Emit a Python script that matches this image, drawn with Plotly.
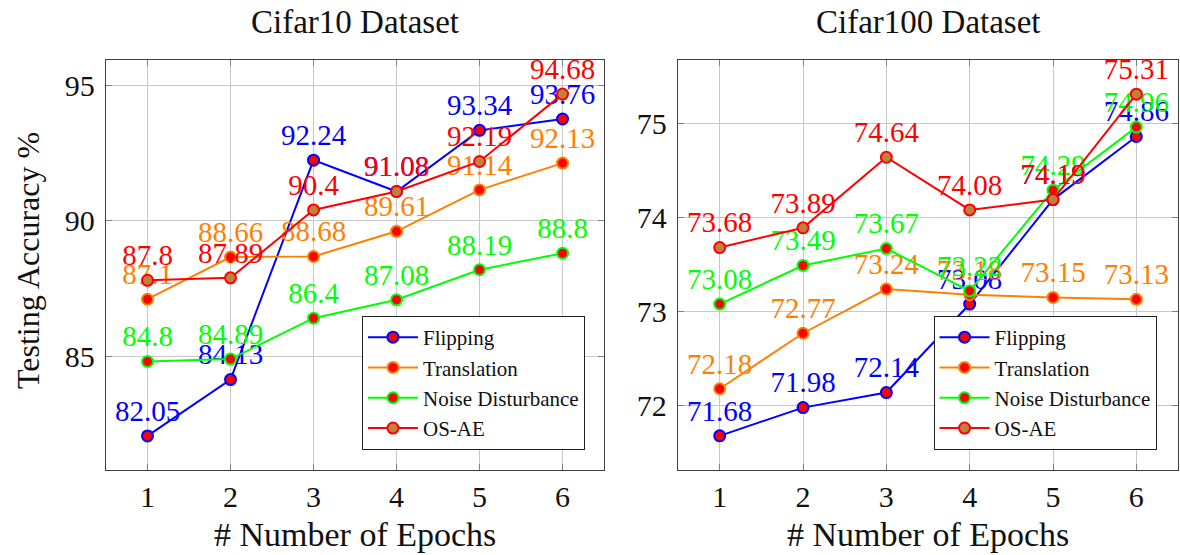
import plotly.graph_objects as go

# Epochs on the x axis
epochs = [1, 2, 3, 4, 5, 6]

# Cifar10 testing accuracy (%)
c10_flipping = [82.05, 84.13, 92.24, 91.08, 93.34, 93.76]
c10_translation = [87.1, 88.66, 88.68, 89.61, 91.14, 92.13]
c10_noise = [84.8, 84.89, 86.4, 87.08, 88.19, 88.8]
c10_osae = [87.8, 87.89, 90.4, 91.08, 92.19, 94.68]

# Cifar100 testing accuracy (%)
c100_flipping = [71.68, 71.98, 72.14, 73.08, 74.19, 74.86]
c100_translation = [72.18, 72.77, 73.24, 73.18, 73.15, 73.13]
c100_noise = [73.08, 73.49, 73.67, 73.22, 74.29, 74.96]
c100_osae = [73.68, 73.89, 74.64, 74.08, 74.19, 75.31]

series_names = ["Flipping", "Translation", "Noise Disturbance", "OS-AE"]
line_colors = ["#0000ff", "#ff8000", "#00ff00", "#ff0000"]
fill_colors = ["#ff0000", "#ff0000", "#ff0000", "#bf8040"]

FONT = "Liberation Serif"
INK = "#111111"

fig = go.Figure()


def add_panel(values_list, xaxis, yaxis, legend):
    for name, vals, lc, fc in zip(series_names, values_list, line_colors, fill_colors):
        fig.add_trace(go.Scatter(
            x=epochs, y=vals, name=name,
            mode="lines+markers+text",
            text=[f"{v:g}" for v in vals],
            textposition="top center",
            textfont=dict(family=FONT, size=29, color=lc),
            line=dict(color=lc, width=2),
            marker=dict(size=11, color=fc, line=dict(color=lc, width=2)),
            cliponaxis=False,
            xaxis=xaxis, yaxis=yaxis, legend=legend,
        ))


add_panel([c10_flipping, c10_translation, c10_noise, c10_osae], "x", "y", "legend")
add_panel([c100_flipping, c100_translation, c100_noise, c100_osae], "x2", "y2", "legend2")

axis_common = dict(
    showgrid=True, gridcolor="#c8c8c8", gridwidth=1,
    showline=True, linecolor="#404040", linewidth=1.3, mirror="ticks",
    ticks="inside", ticklen=6, tickcolor="#808080", tickwidth=1,
    tickfont=dict(family=FONT, size=30, color=INK),
    zeroline=False,
)

legend_common = dict(
    yanchor="bottom", xanchor="right", y=0.0488,
    bgcolor="white", bordercolor="#222222", borderwidth=1,
    font=dict(family=FONT, size=21, color=INK),
    itemwidth=50, tracegroupgap=0,
)

fig.update_layout(
    width=1180, height=555,
    margin=dict(l=106, r=2, t=60, b=85),
    plot_bgcolor="white", paper_bgcolor="white",
    xaxis=dict(domain=[0, 0.4646], range=[0.5, 6.5], tickvals=epochs, anchor="y", **axis_common),
    yaxis=dict(range=[80.79, 95.94], tickvals=[85, 90, 95], anchor="x",
               ticklabelstandoff=4, **axis_common),
    xaxis2=dict(domain=[0.5336, 1.0], range=[0.5, 6.5], tickvals=epochs, anchor="y2", **axis_common),
    yaxis2=dict(range=[71.317, 75.673], tickvals=[72, 73, 74, 75], anchor="x2",
                ticklabelstandoff=4, **axis_common),
    legend=dict(x=0.4468, **legend_common),
    legend2=dict(x=0.980, **legend_common),
    annotations=[
        dict(text="Cifar10 Dataset", x=0.2323, y=1.0, xref="paper", yref="paper",
             xanchor="center", yanchor="middle", yshift=38, showarrow=False,
             font=dict(family=FONT, size=33, color=INK)),
        dict(text="Cifar100 Dataset", x=0.7668, y=1.0, xref="paper", yref="paper",
             xanchor="center", yanchor="middle", yshift=38, showarrow=False,
             font=dict(family=FONT, size=33, color=INK)),
        dict(text="# Number of Epochs", x=0.2323, y=-0.1585, xref="paper", yref="paper",
             xanchor="center", yanchor="middle", showarrow=False,
             font=dict(family=FONT, size=34, color=INK)),
        dict(text="# Number of Epochs", x=0.7668, y=-0.1585, xref="paper", yref="paper",
             xanchor="center", yanchor="middle", showarrow=False,
             font=dict(family=FONT, size=34, color=INK)),
        dict(text="Testing Accuracy %", x=-0.0728, y=0.512, xref="paper", yref="paper",
             xanchor="center", yanchor="middle", textangle=-90, showarrow=False,
             font=dict(family=FONT, size=32, color=INK)),
    ],
)

fig.write_html("out.html")
